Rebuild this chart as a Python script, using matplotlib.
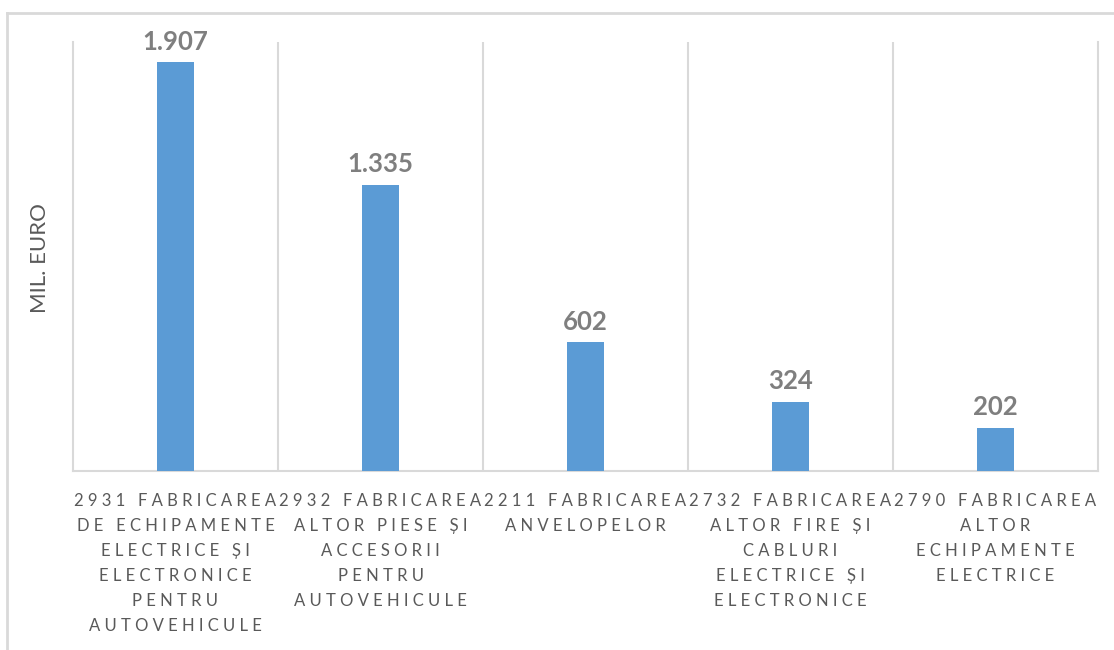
import matplotlib
matplotlib.use("Agg")
import matplotlib.pyplot as plt
import numpy as np
from matplotlib.lines import Line2D

categories = [
    "2931 FABRICAREA\nDE ECHIPAMENTE\nELECTRICE ȘI\nELECTRONICE\nPENTRU\nAUTOVEHICULE",
    "2932 FABRICAREA\nALTOR PIESE ȘI\nACCESORII\nPENTRU\nAUTOVEHICULE",
    "2211 FABRICAREA\nANVELOPELOR",
    "2732 FABRICAREA\nALTOR FIRE ȘI\nCABLURI\nELECTRICE ȘI\nELECTRONICE",
    "2790 FABRICAREA\nALTOR\nECHIPAMENTE\nELECTRICE",
]
values = [1907, 1335, 602, 324, 202]
y_label = "MIL. EURO"

FAM = ["Lato", "DejaVu Sans"]
GRID = "#d9d9d9"
TXT = "#595959"


def spaced(label):
    # imitate Excel's character spacing on the axis labels
    out = []
    for line in label.split("\n"):
        out.append("   ".join(" ".join(w) for w in line.split(" ")))
    return "\n".join(out)


def fmt_ro(v):
    return f"{v:,}".replace(",", ".")


fig = plt.figure(figsize=(11.14, 6.5), dpi=100, facecolor="white")
ax = fig.add_axes([73 / 1114, 1 - 471 / 650, (1098 - 73) / 1114, (471 - 42) / 650])

x = np.arange(len(values))
bars = ax.bar(x, values, width=0.185, color="#5B9BD5", zorder=3)
for xi, v in zip(x, values):
    ax.annotate(fmt_ro(v), (xi, v), xytext=(0, 6), textcoords="offset points",
                ha="center", va="bottom", fontsize=18.5, fontweight="bold",
                color="#7F7F7F", family=FAM)

ax.set_xlim(-0.5, len(values) - 0.5)
ax.set_ylim(0, 2000)
ax.set_yticks([])
ax.set_xticks(x)
ax.set_xticklabels([spaced(c) for c in categories], fontsize=12, color=TXT,
                   family=FAM, linespacing=1.69, multialignment="center")
ax.tick_params(axis="x", length=0, pad=16)
ax.set_xticks(np.arange(0.5, len(values) - 0.5), minor=True)
ax.tick_params(axis="x", which="minor", length=0)
ax.grid(axis="x", which="minor", color=GRID, linewidth=1.5, zorder=0)

for side in ["left", "right", "bottom"]:
    ax.spines[side].set_color(GRID)
    ax.spines[side].set_linewidth(1.5)
ax.spines["top"].set_visible(False)

fig.text(40 / 1114, 1 - 258 / 650, y_label, rotation=90, ha="center", va="center",
         fontsize=16, color=TXT, family=FAM)

# chart area frame (cut off on right and bottom)
fig.add_artist(Line2D([7 / 1114, 7 / 1114], [0, 1 - 13 / 650], color=GRID, linewidth=2,
                      transform=fig.transFigure))
fig.add_artist(Line2D([7 / 1114, 1], [1 - 13 / 650, 1 - 13 / 650], color=GRID, linewidth=2,
                      transform=fig.transFigure))

fig.savefig("out.png", dpi=100, facecolor="white")
